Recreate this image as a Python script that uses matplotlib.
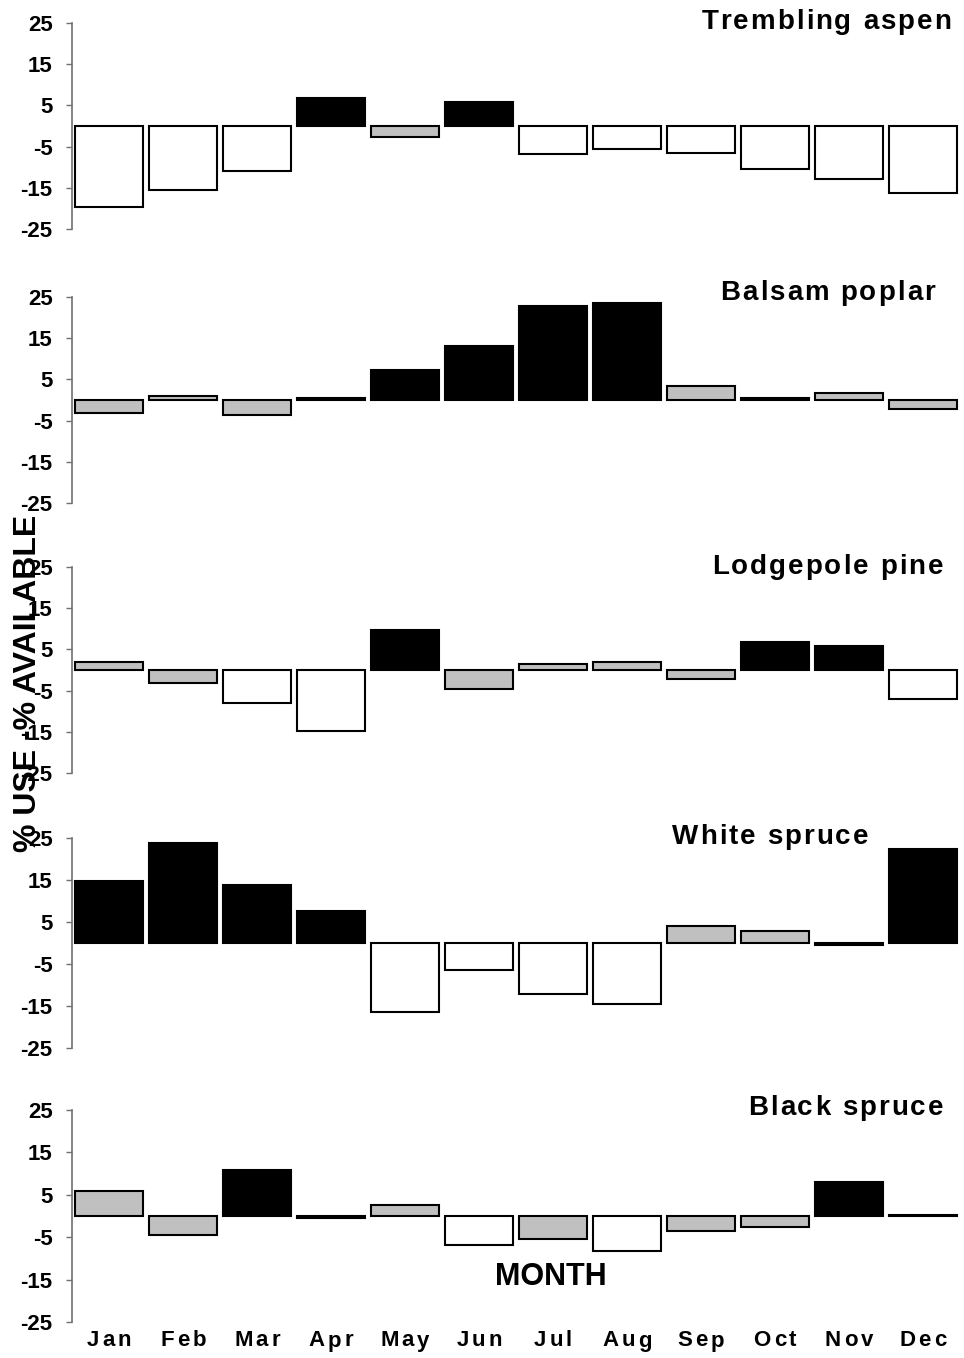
import numpy as np
import matplotlib
matplotlib.use("Agg")
import matplotlib.pyplot as plt

plt.rcParams['font.family'] = ['Liberation Sans', 'DejaVu Sans']

# --------------------------------------
# Data: % use - % available by month
# --------------------------------------
months = ["Jan", "Feb", "Mar", "Apr", "May", "Jun",
          "Jul", "Aug", "Sep", "Oct", "Nov", "Dec"]

species = ["Trembling aspen", "Balsam poplar", "Lodgepole pine",
           "White spruce", "Black spruce"]

aspen = [-19.6, -15.6, -10.9, 6.8, -2.7, 5.8, -6.9, -5.6, -6.5, -10.4, -12.9, -16.2]
poplar = [-3.2, 0.9, -3.6, 0.4, 7.2, 13.0, 22.7, 23.6, 3.3, 0.4, 1.8, -2.2]
pine = [1.9, -3.1, -7.9, -14.7, 9.6, -4.6, 1.4, 1.9, -2.2, 6.7, 5.8, -7.0]
white = [14.8, 23.8, 13.8, 7.6, -16.4, -6.4, -12.1, -14.5, 4.1, 2.8, -0.5, 22.3]
black = [6.0, -4.5, 10.9, -0.4, 2.6, -6.9, -5.4, -8.3, -3.6, -2.7, 8.0, 0.3]

# fill code: 'w' = white, 'g' = grey, 'k' = black
aspen_sig = ['w', 'w', 'w', 'k', 'g', 'k', 'w', 'w', 'w', 'w', 'w', 'w']
poplar_sig = ['g', 'g', 'g', 'k', 'k', 'k', 'k', 'k', 'g', 'k', 'g', 'g']
pine_sig = ['g', 'g', 'w', 'w', 'k', 'g', 'g', 'g', 'g', 'k', 'k', 'w']
white_sig = ['k', 'k', 'k', 'k', 'w', 'w', 'w', 'w', 'g', 'g', 'k', 'k']
black_sig = ['g', 'g', 'k', 'k', 'g', 'w', 'g', 'w', 'g', 'g', 'k', 'k']

values = [aspen, poplar, pine, white, black]
sigs = [aspen_sig, poplar_sig, pine_sig, white_sig, black_sig]
yticks = [25, 15, 5, -5, -15, -25]

fill = {'w': 'white', 'g': '#c0c0c0', 'k': 'black'}

# --------------------------------------
# Layout (pixels)
# --------------------------------------
W, H = 964, 1358
panel_px = [(23, 229), (297, 503), (567, 773), (838, 1048), (1110, 1322)]
title_px = [(951, 22), (935, 293), (943, 567), (868, 837), (943, 1108)]
left_px, right_px = 72, 960

fig = plt.figure(figsize=(W / 100, H / 100), dpi=100)
renderer = fig.canvas.get_renderer()


def spaced_text(x, y, s, size, spacing, ha='right'):
    # draw bold text with extra letter spacing (pixel coords)
    def width(txt):
        t = fig.text(0, 0, txt, fontsize=size, weight='bold')
        w = t.get_window_extent(renderer).width
        t.remove()
        return w
    base = width("xx")
    adv = [width("x" + ch + "x") - base for ch in s]
    total = sum(adv) + spacing * (len(s) - 1)
    pos = x - total if ha == 'right' else x - total / 2
    for ch, a in zip(s, adv):
        fig.text(pos / W, 1 - y / H, ch, fontsize=size, weight='bold',
                 ha='left', va='center')
        pos += a + spacing


x = np.arange(len(months))
axes = []
for i, (top, bot) in enumerate(panel_px):
    ax = fig.add_axes([left_px / W, 1 - bot / H, (right_px - left_px) / W, (bot - top) / H])
    ax.bar(x, values[i], width=0.93, color=[fill[c] for c in sigs[i]],
           edgecolor='black', linewidth=1.5)
    ax.set_xlim(-0.5, 11.5)
    ax.set_ylim(-25, 25)
    ax.set_yticks(yticks)
    ax.set_yticklabels([str(v) for v in yticks], fontsize=16, fontweight='bold')
    ax.tick_params(axis='y', length=4, width=1, color='#707070', pad=10)
    for side in ['top', 'right', 'bottom']:
        ax.spines[side].set_visible(False)
    ax.spines['left'].set_color('#707070')
    ax.spines['left'].set_linewidth(1.2)
    ax.set_xticks(x)
    ax.set_xticklabels([])
    ax.tick_params(axis='x', length=0)
    axes.append(ax)

for (tx, ty), name in zip(title_px, species):
    spaced_text(tx, ty, name, 20, 2.0, ha='right')

# month labels under bottom panel
ax5 = axes[-1]
for i, m in enumerate(months):
    px = ax5.transData.transform((i, 0))[0]
    spaced_text(px, 1341, m, 16, 3.0, ha='center')

fig.text(28 / W, 1 - 683 / H, "% USE -% AVAILABLE", rotation=90, fontsize=23,
         fontweight='bold', ha='center', va='center')
fig.text(551 / W, 1 - 1277 / H, "MONTH", fontsize=22, fontweight='bold',
         ha='center', va='center')

fig.savefig("out.png", dpi=100)
